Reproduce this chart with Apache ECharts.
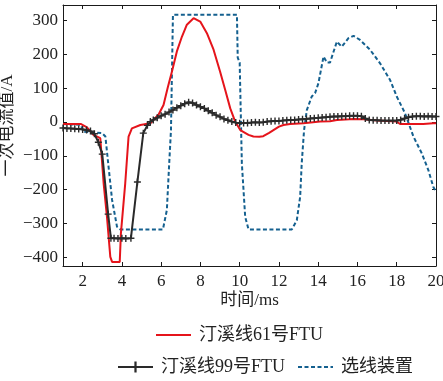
<!DOCTYPE html>
<html>
<head>
<meta charset="utf-8">
<script src="https://cdn.jsdelivr.net/npm/echarts@6/dist/echarts.min.js"></script>
<style>
html,body{margin:0;padding:0;background:#fff;}
#c{width:443px;height:381px;}
</style>
</head>
<body>
<div id="c"></div>
<script>
const xTicks = [2,4,6,8,10,12,14,16,18,20];
const yTicks = [-400,-300,-200,-100,0,100,200,300];

const names = ['汀溪线61号FTU','汀溪线99号FTU','选线装置'];

const redT = [1.0,1.4,1.9,2.2,2.55,2.9,3.07,3.24,3.41,3.5,3.89,3.95,4.17,4.34,4.51,4.94,5.45,5.87,5.95,6.12,6.33,6.55,6.8,7.06,7.31,7.65,7.99,8.33,8.67,9.0,9.26,9.52,9.77,10.03,10.45,10.7,11.0,11.2,11.5,11.72,12.0,12.23,12.57,13.25,14.1,14.6,14.95,15.6,15.8,16.3,16.4,17.0,18.0,18.17,19.35,19.86,20.0];
const redV = [-6,-6,-6,-15,-38,-48,-181,-280,-398,-413,-413,-329,-181,-43,-19,-9,-4,22,26,50,100,149,208,252,287,306,296,262,213,149,95,40,1,-24,-38,-43,-44,-42,-32,-24,-14,-9,-6,-4,1,2,6,8,9,8,6,4,1,-6,-6,-4,-4];

const blackT = [1.0,1.2,1.4,1.6,1.8,2.0,2.2,2.4,2.6,2.8,3.0,3.3,3.44,3.6,3.8,4.0,4.2,4.46,4.79,5.09,5.3,5.45,5.6,5.8,6.0,6.2,6.4,6.6,6.8,7.0,7.2,7.4,7.6,7.8,8.0,8.2,8.4,8.6,8.8,9.0,9.2,9.4,9.6,9.8,10.0,10.2,10.4,10.6,10.8,11.0,11.2,11.4,11.6,11.8,12.0,12.2,12.4,12.6,12.8,13.0,13.2,13.4,13.6,13.8,14.0,14.2,14.4,14.6,14.8,15.0,15.2,15.4,15.6,15.8,16.0,16.2,16.4,16.6,16.8,17.0,17.2,17.4,17.6,17.8,18.0,18.2,18.4,18.6,18.8,19.0,19.2,19.4,19.6,19.8,20.0];
const blackV = [-18,-19,-19,-20,-21,-22,-24,-27,-35,-60,-95,-272,-343,-343,-344,-343,-344,-343,-177,-33,-10,1,6,12,18,23,29,35,42,48,54,58,56,50,45,40,33,27,20,15,9,5,1,-2,-4,-3,-3,-2,-1,-2,-1,1,2,3,3,4,5,6,6,7,8,9,10,11,12,13,14,15,16,16,17,17,18,18,18,17,10,6,5,5,4,4,4,4,4,6,10,14,16,17,17,16,17,16,16];

const blueT = [1.0,1.9,2.05,2.99,3.16,3.32,3.5,3.75,3.92,6.09,6.29,6.41,6.5,6.6,9.86,9.9,10.0,10.11,10.28,10.45,12.66,12.91,13.08,13.16,13.28,13.42,13.67,13.84,14.01,14.27,14.45,14.6,14.95,15.2,15.54,15.8,16.13,16.64,17.15,17.66,18.0,18.42,18.85,19.27,19.61,19.86,20.0];
const blueV = [-6,-8,-29,-33,-43,-132,-230,-309,-317,-317,-260,-122,-24,316,316,190,175,-122,-280,-317,-317,-290,-221,-122,-24,35,75,85,114,193,175,175,237,222,247,254,242,213,173,124,75,26,-43,-92,-142,-191,-206];

const zip = (t, v) => t.map((x, i) => [x, v[i]]);

const serifFont = '"Liberation Serif", "Noto Sans CJK SC", serif';
const plusPath = 'path://M4,0h2v4h4v2h-4v4h-2v-4h-4v-2h4z';

const chart = echarts.init(document.getElementById('c'));
const axisLineStyle = {color:'#1a1a1a', width:1};
chart.setOption({
  backgroundColor:'#fff',
  animation:false,
  grid:{left:63, right:7, top:5, bottom:115, containLabel:false, outerBoundsMode:'none'},
  xAxis:[{
    type:'value', min:1, max:20, position:'bottom',
    axisLine:{show:true, onZero:false, lineStyle:axisLineStyle},
    axisTick:{show:true, inside:true, length:4, customValues:xTicks, lineStyle:axisLineStyle},
    axisLabel:{customValues:xTicks, color:'#222', fontFamily:serifFont, fontSize:17, margin:7},
    splitLine:{show:false},
    name:'时间/ms', nameLocation:'middle', nameGap:26, nameMoveOverlap:false,
    nameTextStyle:{color:'#222', fontFamily:serifFont, fontSize:17}
  },{
    type:'value', min:1, max:20, position:'top',
    axisLine:{show:true, onZero:false, lineStyle:axisLineStyle},
    axisTick:{show:true, inside:true, length:4, customValues:xTicks, lineStyle:axisLineStyle},
    axisLabel:{show:false}, splitLine:{show:false}
  }],
  yAxis:[{
    type:'value', min:-425, max:345, position:'left',
    axisLine:{show:true, onZero:false, lineStyle:axisLineStyle},
    axisTick:{show:true, inside:true, length:4, customValues:yTicks, lineStyle:axisLineStyle},
    axisLabel:{customValues:yTicks, color:'#222', fontFamily:serifFont, fontSize:17, margin:5,
      formatter:v => (v < 0 ? '\u2212' + Math.abs(v) : String(v))},
    splitLine:{show:false},
    name:'一次电流值/A', nameLocation:'middle', nameGap:47, nameRotate:90, nameMoveOverlap:false,
    nameTextStyle:{color:'#222', fontFamily:serifFont, fontSize:17, padding:[0,0,0,20]}
  },{
    type:'value', min:-425, max:345, position:'right',
    axisLine:{show:true, onZero:false, lineStyle:axisLineStyle},
    axisTick:{show:true, inside:true, length:4, customValues:yTicks, lineStyle:axisLineStyle},
    axisLabel:{show:false}, splitLine:{show:false}
  }],
  legend:[{
    data:[{name:names[0], itemStyle:{opacity:0}}], left:155, top:326, padding:0, itemWidth:35, itemHeight:14, itemGap:15,
    textStyle:{color:'#222', fontFamily:serifFont, fontSize:18, padding:[0,0,0,3]}
  },{
    data:[names[1], {name:names[2], itemStyle:{opacity:0}}], left:117, top:358, padding:0, itemWidth:35, itemHeight:14, itemGap:12,
    textStyle:{color:'#222', fontFamily:serifFont, fontSize:18, padding:[0,0,0,3]}
  }],
  series:[{
    name:names[0], type:'line', data:zip(redT, redV), showSymbol:false, symbol:'none',
    lineStyle:{color:'#e5141b', width:2}, itemStyle:{color:'#e5141b'}, z:2
  },{
    name:names[2], type:'line', data:zip(blueT, blueV), showSymbol:false, symbol:'none',
    lineStyle:{color:'#14608f', width:2, type:[4,2.5]}, itemStyle:{color:'#14608f'}, z:1
  },{
    name:names[1], type:'line', data:zip(blackT, blackV), symbol:plusPath, symbolSize:7, showSymbol:true,
    lineStyle:{color:'#2a2a2a', width:2}, itemStyle:{color:'#2a2a2a'}, z:3
  }]
});
</script>
</body>
</html>
